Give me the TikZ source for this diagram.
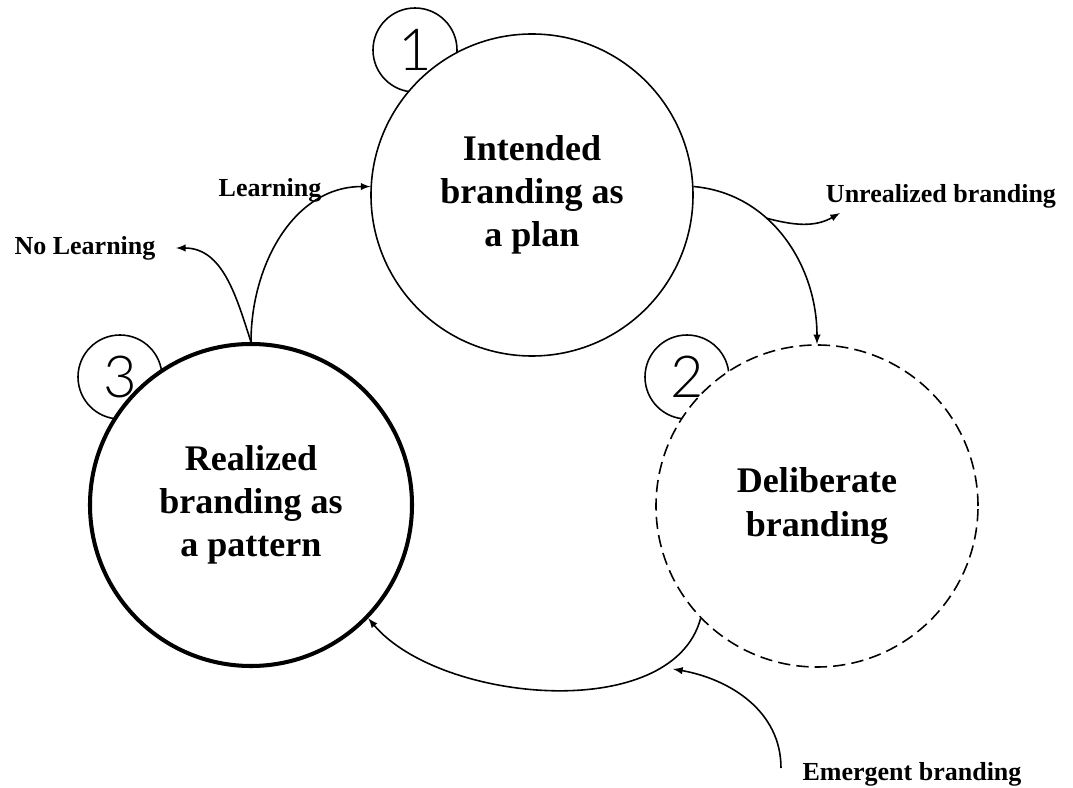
\documentclass[tikz,border=0pt]{standalone}
\usepackage{fontspec}
\setmainfont{Liberation Serif}
\newfontfamily\numfont{Lato Light}
\usepackage{tikz}
\usetikzlibrary{calc, arrows}
\tikzstyle{stage} = [circle, draw=black, fill=white, line width=0.9pt, minimum size=6.44cm, inner sep=0pt, align=center, font=\fontsize{20.5}{24.5}\selectfont\bfseries]
\tikzstyle{badge} = [circle, draw=black, line width=0.9pt, minimum size=1.68cm, inner sep=0pt, font=\numfont\fontsize{33}{33}\selectfont]
\tikzstyle{tag} = [inner sep=0pt, font=\fontsize{14.8}{17}\selectfont\bfseries]
\tikzstyle{flow} = [-latex, line width=0.9pt]

\begin{document}
\begin{tikzpicture}[x=0.2mm, y=0.2mm]

        \useasboundingbox (0,0) rectangle (1073,787);

        \node (badge1) [badge] at (415,737) {1};
        \node (badge2) [badge] at (687,410) {2};
        \node (badge3) [badge] at (120,410) {3};

        \node (intended) [stage] at (532,592) {Intended\\branding as\\a plan};
        \node (deliberate) [stage, dashed, dash pattern=on 7pt off 3.5pt] at (817,281) {Deliberate\\branding};
        \node (realized) [stage, line width=2.3pt] at (251,282) {Realized\\branding as\\a pattern};

        \node (learning) [tag, anchor=base] at (270,590) {Learning};
        \node (nolearning) [tag, anchor=base] at (85,532) {No Learning};
        \node (unrealized) [tag, anchor=base] at (941,584) {Unrealized branding};
        \node (emergent) [tag, anchor=base] at (912,7) {Emergent branding};

        \coordinate (nolearntip) at (176,539);
        \coordinate (unrealtip) at (840,574);
        \coordinate (emergtail) at (781,19);
        \coordinate (emergtip) at (673,118);

        \draw [flow] (realized.north) to[out=90, in=180] (intended.177);
        \draw [flow] (realized.north) to[out=108, in=0] (nolearntip);
        \draw [flow] (intended.3) to[out=-5, in=90] coordinate[pos=0.37] (split) (deliberate.north);
        \draw [flow] (split) to[out=-15, in=210] (unrealtip);
        \draw [flow] (deliberate.224) to[out=-105, in=-50, looseness=0.85] (realized.-44);
        \draw [flow] (emergtail) to[out=90, in=-10] (emergtip);

    \end{tikzpicture}
\end{document}
